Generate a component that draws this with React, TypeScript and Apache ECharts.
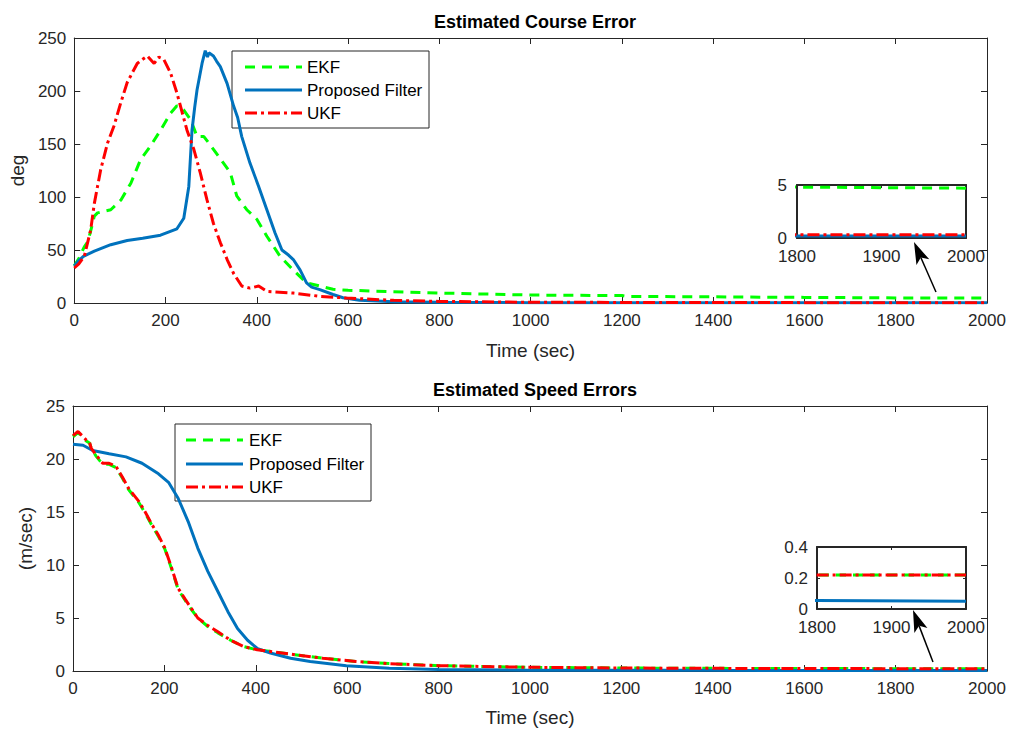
import React, { useEffect, useRef } from "react";
import * as echarts from "echarts";

// ---------- Data ----------
const courseEkfT = [0, 10, 22, 30, 36, 44, 51, 80, 102, 124, 145, 167, 189, 211, 225, 240, 255, 269, 284, 305, 327, 342, 356, 378, 400, 422, 451, 480, 509, 538, 567, 600, 800, 1000, 1200, 1210, 1400, 1600, 1800, 2000];
const courseEkf = [35, 42, 53, 58, 68, 82, 85, 88, 97, 113, 135, 148, 163, 179, 186, 182, 173, 157, 157, 145, 132, 123, 101, 88, 79, 63, 44, 31, 19, 16, 13, 12, 9.4, 7.5, 7.0, 6.2, 5.8, 5.3, 4.8, 4.7];

const coursePfT = [0, 10, 20, 44, 80, 116, 150, 189, 225, 240, 251, 258, 264, 269, 280, 287, 292, 295, 305, 312, 320, 335, 349, 358, 367, 385, 404, 422, 440, 455, 470, 480, 495, 509, 520, 538, 567, 589, 625, 700, 800, 1000, 1400, 1800, 2000];
const coursePf = [35, 40, 44, 49, 55, 59, 61, 64, 70, 80, 110, 163, 185, 201, 226, 238, 232, 236, 233, 228, 223, 207, 186, 175, 157, 132, 110, 88, 66, 50, 45, 41, 31, 19, 15, 12.6, 8, 5, 2.5, 1.2, 0.6, 0.3, 0.25, 0.2, 0.2];

const courseUkfT = [0, 10, 22, 36, 44, 58, 73, 87, 102, 116, 138, 150, 160, 175, 185, 196, 211, 225, 247, 262, 276, 291, 305, 320, 335, 349, 367, 385, 404, 422, 480, 538, 596, 700, 800, 1000, 1400, 1800, 2000];
const courseUkf = [33, 37, 44, 69, 94, 126, 151, 167, 189, 208, 226, 230, 233, 226, 232, 230, 217, 198, 163, 145, 123, 97, 75, 57, 41, 28, 16, 14, 16, 11, 9.4, 6.3, 4.7, 2.5, 1.5, 0.7, 0.4, 0.3, 0.3];

const speedPfT = [0, 22, 43, 79, 116, 151, 187, 209, 230, 252, 273, 295, 317, 339, 360, 382, 404, 432, 476, 519, 598, 692, 800, 1000, 1400, 1800, 2000];
const speedPf = [21.4, 21.3, 20.8, 20.5, 20.2, 19.6, 18.6, 17.8, 16.3, 14.1, 11.6, 9.4, 7.5, 5.6, 4.0, 2.9, 2.1, 1.7, 1.2, 0.9, 0.5, 0.25, 0.15, 0.08, 0.06, 0.055, 0.05];

const speedUkfT = [0, 11, 29, 36, 40, 50, 65, 79, 94, 108, 122, 144, 158, 173, 187, 201, 216, 230, 245, 259, 273, 295, 317, 345, 374, 403, 439, 475, 547, 619, 691, 800, 1000, 1200, 1400, 1800, 2000];
const speedUkf = [22.2, 22.6, 21.8, 21.6, 21.0, 20.4, 19.6, 19.6, 19.3, 18.3, 17.2, 16.0, 15.0, 13.8, 12.8, 11.6, 9.7, 7.8, 6.8, 5.9, 5.0, 4.3, 3.7, 2.9, 2.3, 2.0, 1.8, 1.6, 1.2, 0.9, 0.7, 0.5, 0.35, 0.28, 0.25, 0.22, 0.22];
const speedEkf = [22.1, 22.5, 21.7, 21.5, 21.0, 20.3, 19.5, 19.5, 19.2, 18.2, 17.1, 15.9, 14.9, 13.7, 12.7, 11.5, 9.6, 7.7, 6.7, 5.8, 5.0, 4.2, 3.6, 2.9, 2.3, 2.0, 1.8, 1.6, 1.2, 0.9, 0.7, 0.5, 0.35, 0.28, 0.25, 0.22, 0.22];

const xTicks = { min: 0, max: 2000, interval: 200 };
const courseTicks = { min: 0, max: 250, interval: 50 };
const speedTicks = { min: 0, max: 25, interval: 5 };
const insetX = { min: 1800, max: 2000, interval: 100 };
const insetCourseY = { min: 0, max: 5, interval: 5 };
const insetSpeedY = { min: 0, max: 0.4, interval: 0.2 };

const legendNames = ["EKF", "Proposed Filter", "UKF"];

// ---------- Styles ----------
const FONT = "Liberation Sans, Arial, Helvetica, sans-serif";
const AX = "#262626";
const GREEN = "#00ff00";
const BLUE = "#0072bd";
const RED = "#ff0000";
const GREEN_DASH = [10, 7];
const RED_DASH = [12, 4, 3, 4];

const pairs = (t: number[], v: number[]) => t.map((x, i) => [x, v[i]]);
const plainNum = (v: number) => `${+Number(v).toFixed(6)}`;

function axisBase(range: any, opts: any = {}) {
  return {
    type: "value",
    min: range.min,
    max: range.max,
    interval: range.interval,
    axisLine: { show: true, onZero: false, lineStyle: { color: AX, width: opts.lw || 1 } },
    axisTick: { show: true, inside: true, length: opts.tickLen || 6, lineStyle: { color: AX } },
    axisLabel: {
      show: opts.labels !== false,
      color: AX,
      fontFamily: FONT,
      fontSize: 17,
      margin: opts.margin ?? 8,
      formatter: plainNum,
    },
    splitLine: { show: false },
  };
}

function lineSeries(name: string, data: number[][], xi: number, yi: number, color: string, type: any, z: number) {
  return {
    name,
    type: "line",
    data,
    xAxisIndex: xi,
    yAxisIndex: yi,
    showSymbol: false,
    symbol: "none",
    clip: true,
    z,
    lineStyle: { color, width: 3, type },
    itemStyle: { color },
  };
}

function legendGraphic(x: number, y: number, w: number, h: number, rows: number[], lx0: number, lx1: number, tx: number) {
  const styles = [
    { stroke: GREEN, lineDash: GREEN_DASH },
    { stroke: BLUE, lineDash: null },
    { stroke: RED, lineDash: RED_DASH },
  ];
  const children: any[] = [
    { type: "rect", shape: { x, y, width: w, height: h }, style: { fill: "#ffffff", stroke: AX, lineWidth: 1 } },
  ];
  rows.forEach((ry, i) => {
    children.push({
      type: "line",
      shape: { x1: lx0, y1: ry, x2: lx1, y2: ry },
      style: { stroke: styles[i].stroke, lineWidth: 3, lineDash: styles[i].lineDash },
    });
    children.push({
      type: "text",
      x: tx,
      y: ry,
      style: { text: legendNames[i], fill: "#000000", font: `17px ${FONT}`, verticalAlign: "middle", align: "left" },
    });
  });
  return { type: "group", z: 100, children };
}

function arrowGraphic(tip: number[], tail: number[]) {
  const dx = tail[0] - tip[0];
  const dy = tail[1] - tip[1];
  const len = Math.hypot(dx, dy);
  const ux = dx / len;
  const uy = dy / len;
  const hl = 22;
  const hw = 7;
  const bx = tip[0] + ux * hl;
  const by = tip[1] + uy * hl;
  const nx = tip[0] + ux * (hl - 5);
  const ny = tip[1] + uy * (hl - 5);
  const px = -uy * hw;
  const py = ux * hw;
  return {
    type: "group",
    z: 100,
    children: [
      { type: "line", shape: { x1: nx, y1: ny, x2: tail[0], y2: tail[1] }, style: { stroke: "#000", lineWidth: 1.5 } },
      {
        type: "polygon",
        shape: { points: [tip, [bx + px, by + py], [nx, ny], [bx - px, by - py]] },
        style: { fill: "#000" },
      },
    ],
  };
}

export default function App() {
  const ref = useRef<HTMLDivElement>(null);

  useEffect(() => {
    if (!ref.current) return;
    const chart = echarts.init(ref.current, undefined, { renderer: "svg" });

    const cEkf = pairs(courseEkfT, courseEkf);
    const cPf = pairs(coursePfT, coursePf);
    const cUkf = pairs(courseUkfT, courseUkf);
    const sEkf = pairs(speedUkfT, speedEkf);
    const sPf = pairs(speedPfT, speedPf);
    const sUkf = pairs(speedUkfT, speedUkf);

    const nameStyle = { color: AX, fontFamily: FONT, fontSize: 19 };

    const option: any = {
      animation: false,
      backgroundColor: "#ffffff",
      textStyle: { fontFamily: FONT },
      title: [
        { text: "Estimated Course Error", left: 530, top: 8, textAlign: "center", textStyle: { fontFamily: FONT, fontSize: 18, fontWeight: "bold", color: "#000" } },
        { text: "Estimated Speed Errors", left: 530, top: 376, textAlign: "center", textStyle: { fontFamily: FONT, fontSize: 18, fontWeight: "bold", color: "#000" } },
      ],
      grid: [
        { left: 73, top: 38, width: 914, height: 265 },
        { left: 73, top: 406, width: 914, height: 265 },
        { left: 797, top: 185, width: 169, height: 53 },
        { left: 817, top: 547, width: 149, height: 62 },
      ],
      xAxis: [
        { ...axisBase(xTicks, { margin: 9 }), gridIndex: 0, position: "bottom", name: "Time (sec)", nameLocation: "middle", nameGap: 38, nameTextStyle: nameStyle },
        { ...axisBase(xTicks, { labels: false }), gridIndex: 0, position: "top" },
        { ...axisBase(xTicks, { margin: 9 }), gridIndex: 1, position: "bottom", name: "Time (sec)", nameLocation: "middle", nameGap: 37, nameTextStyle: nameStyle },
        { ...axisBase(xTicks, { labels: false }), gridIndex: 1, position: "top" },
        { ...axisBase(insetX, { lw: 2, tickLen: 3, margin: 10 }), gridIndex: 2, position: "bottom" },
        { ...axisBase(insetX, { lw: 2, tickLen: 3, labels: false }), gridIndex: 2, position: "top" },
        { ...axisBase(insetX, { lw: 2, tickLen: 3, margin: 10 }), gridIndex: 3, position: "bottom" },
        { ...axisBase(insetX, { lw: 2, tickLen: 3, labels: false }), gridIndex: 3, position: "top" },
      ],
      yAxis: [
        { ...axisBase(courseTicks), gridIndex: 0, position: "left", name: "deg", nameLocation: "middle", nameGap: 44, nameTextStyle: nameStyle },
        { ...axisBase(courseTicks, { labels: false }), gridIndex: 0, position: "right" },
        { ...axisBase(speedTicks), gridIndex: 1, position: "left", name: "(m/sec)", nameLocation: "middle", nameGap: 34, nameTextStyle: nameStyle },
        { ...axisBase(speedTicks, { labels: false }), gridIndex: 1, position: "right" },
        { ...axisBase(insetCourseY, { lw: 2, tickLen: 3, margin: 10 }), gridIndex: 2, position: "left" },
        { ...axisBase(insetCourseY, { lw: 2, tickLen: 3, labels: false }), gridIndex: 2, position: "right" },
        { ...axisBase(insetSpeedY, { lw: 2, tickLen: 3, margin: 9 }), gridIndex: 3, position: "left" },
        { ...axisBase(insetSpeedY, { lw: 2, tickLen: 3, labels: false }), gridIndex: 3, position: "right" },
      ],
      series: [
        lineSeries("EKF", cEkf, 0, 0, GREEN, GREEN_DASH, 2),
        lineSeries("Proposed Filter", cPf, 0, 0, BLUE, "solid", 3),
        lineSeries("UKF", cUkf, 0, 0, RED, RED_DASH, 4),
        lineSeries("EKF", sEkf, 2, 2, GREEN, GREEN_DASH, 2),
        lineSeries("Proposed Filter", sPf, 2, 2, BLUE, "solid", 3),
        lineSeries("UKF", sUkf, 2, 2, RED, RED_DASH, 4),
        lineSeries("EKF", cEkf, 4, 4, GREEN, GREEN_DASH, 2),
        lineSeries("Proposed Filter", cPf, 4, 4, BLUE, "solid", 3),
        lineSeries("UKF", cUkf, 4, 4, RED, RED_DASH, 4),
        lineSeries("EKF", sEkf, 6, 6, GREEN, GREEN_DASH, 2),
        lineSeries("Proposed Filter", sPf, 6, 6, BLUE, "solid", 3),
        lineSeries("UKF", sUkf, 6, 6, RED, RED_DASH, 4),
      ],
      graphic: [
        legendGraphic(232, 51, 197, 77, [67, 90, 113], 245, 302, 307),
        legendGraphic(175, 424, 196, 77, [440, 464, 487], 186, 243, 249),
        arrowGraphic([914, 242], [936, 292]),
        arrowGraphic([913, 610], [933, 662]),
      ],
    };

    chart.setOption(option);
    return () => chart.dispose();
  }, []);

  return (
    <div
      ref={ref}
      style={{ position: "fixed", left: 0, top: 0, width: 1011, height: 729, background: "#fff" }}
    />
  );
}
